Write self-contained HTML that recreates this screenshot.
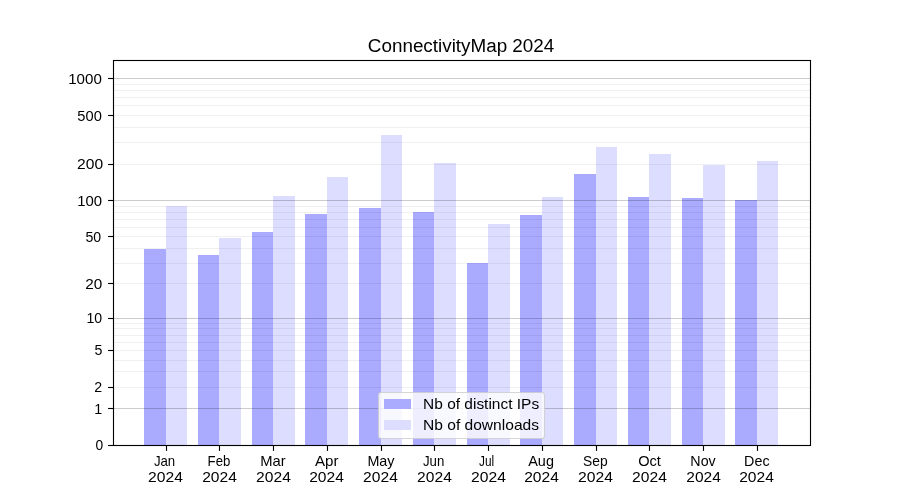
<!DOCTYPE html>
<html><head><meta charset="utf-8"><title>ConnectivityMap 2024</title>
<style>
html,body{margin:0;padding:0;background:#fff;width:900px;height:500px;overflow:hidden}
svg{display:block}
text{font-family:"Liberation Sans", sans-serif;fill:#000}
</style></head><body>
<svg width="900" height="500" viewBox="0 0 900 500">
<rect x="0" y="0" width="900" height="500" fill="#ffffff"/>
<g shape-rendering="crispEdges">
<rect x="144" y="249" width="22" height="196" fill="#aaaaff"/>
<rect x="198" y="255" width="21" height="190" fill="#aaaaff"/>
<rect x="252" y="232" width="21" height="213" fill="#aaaaff"/>
<rect x="305" y="214" width="22" height="231" fill="#aaaaff"/>
<rect x="359" y="208" width="22" height="237" fill="#aaaaff"/>
<rect x="413" y="212" width="21" height="233" fill="#aaaaff"/>
<rect x="467" y="263" width="21" height="182" fill="#aaaaff"/>
<rect x="520" y="215" width="22" height="230" fill="#aaaaff"/>
<rect x="574" y="174" width="22" height="271" fill="#aaaaff"/>
<rect x="628" y="197" width="21" height="248" fill="#aaaaff"/>
<rect x="682" y="198" width="21" height="247" fill="#aaaaff"/>
<rect x="735" y="200" width="22" height="245" fill="#aaaaff"/>
<rect x="166" y="206" width="21" height="239" fill="#ddddff"/>
<rect x="219" y="238" width="22" height="207" fill="#ddddff"/>
<rect x="273" y="196" width="22" height="249" fill="#ddddff"/>
<rect x="327" y="177" width="21" height="268" fill="#ddddff"/>
<rect x="381" y="135" width="21" height="310" fill="#ddddff"/>
<rect x="434" y="163" width="22" height="282" fill="#ddddff"/>
<rect x="488" y="224" width="22" height="221" fill="#ddddff"/>
<rect x="542" y="197" width="21" height="248" fill="#ddddff"/>
<rect x="596" y="147" width="21" height="298" fill="#ddddff"/>
<rect x="649" y="154" width="22" height="291" fill="#ddddff"/>
<rect x="703" y="165" width="22" height="280" fill="#ddddff"/>
<rect x="757" y="161" width="21" height="284" fill="#ddddff"/>
</g>
<g shape-rendering="crispEdges" fill="#000">
<rect x="113" y="387" width="698" height="1" fill-opacity="0.06"/>
<rect x="113" y="371" width="698" height="1" fill-opacity="0.06"/>
<rect x="113" y="360" width="698" height="1" fill-opacity="0.06"/>
<rect x="113" y="350" width="698" height="1" fill-opacity="0.06"/>
<rect x="113" y="342" width="698" height="1" fill-opacity="0.06"/>
<rect x="113" y="335" width="698" height="1" fill-opacity="0.06"/>
<rect x="113" y="328" width="698" height="1" fill-opacity="0.06"/>
<rect x="113" y="323" width="698" height="1" fill-opacity="0.06"/>
<rect x="113" y="283" width="698" height="1" fill-opacity="0.06"/>
<rect x="113" y="263" width="698" height="1" fill-opacity="0.06"/>
<rect x="113" y="248" width="698" height="1" fill-opacity="0.06"/>
<rect x="113" y="236" width="698" height="1" fill-opacity="0.06"/>
<rect x="113" y="227" width="698" height="1" fill-opacity="0.06"/>
<rect x="113" y="219" width="698" height="1" fill-opacity="0.06"/>
<rect x="113" y="212" width="698" height="1" fill-opacity="0.06"/>
<rect x="113" y="206" width="698" height="1" fill-opacity="0.06"/>
<rect x="113" y="164" width="698" height="1" fill-opacity="0.06"/>
<rect x="113" y="142" width="698" height="1" fill-opacity="0.06"/>
<rect x="113" y="127" width="698" height="1" fill-opacity="0.06"/>
<rect x="113" y="115" width="698" height="1" fill-opacity="0.06"/>
<rect x="113" y="105" width="698" height="1" fill-opacity="0.06"/>
<rect x="113" y="97" width="698" height="1" fill-opacity="0.06"/>
<rect x="113" y="90" width="698" height="1" fill-opacity="0.06"/>
<rect x="113" y="84" width="698" height="1" fill-opacity="0.06"/>
<rect x="113" y="408" width="698" height="1" fill-opacity="0.2"/>
<rect x="113" y="318" width="698" height="1" fill-opacity="0.2"/>
<rect x="113" y="200" width="698" height="1" fill-opacity="0.2"/>
<rect x="113" y="78" width="698" height="1" fill-opacity="0.2"/>
</g>
<rect x="113.5" y="60.5" width="697" height="385" fill="none" stroke="#000" stroke-width="1.11"/>
<line x1="108.1" y1="445.5" x2="113.5" y2="445.5" stroke="#000" stroke-width="1.11"/>
<line x1="108.1" y1="408.5" x2="113.5" y2="408.5" stroke="#000" stroke-width="1.11"/>
<line x1="108.1" y1="387.5" x2="113.5" y2="387.5" stroke="#000" stroke-width="1.11"/>
<line x1="108.1" y1="350.5" x2="113.5" y2="350.5" stroke="#000" stroke-width="1.11"/>
<line x1="108.1" y1="318.5" x2="113.5" y2="318.5" stroke="#000" stroke-width="1.11"/>
<line x1="108.1" y1="283.5" x2="113.5" y2="283.5" stroke="#000" stroke-width="1.11"/>
<line x1="108.1" y1="236.5" x2="113.5" y2="236.5" stroke="#000" stroke-width="1.11"/>
<line x1="108.1" y1="200.5" x2="113.5" y2="200.5" stroke="#000" stroke-width="1.11"/>
<line x1="108.1" y1="164.5" x2="113.5" y2="164.5" stroke="#000" stroke-width="1.11"/>
<line x1="108.1" y1="115.5" x2="113.5" y2="115.5" stroke="#000" stroke-width="1.11"/>
<line x1="108.1" y1="78.5" x2="113.5" y2="78.5" stroke="#000" stroke-width="1.11"/>
<line x1="166.5" y1="445.5" x2="166.5" y2="450.9" stroke="#000" stroke-width="1.11"/>
<line x1="219.5" y1="445.5" x2="219.5" y2="450.9" stroke="#000" stroke-width="1.11"/>
<line x1="273.5" y1="445.5" x2="273.5" y2="450.9" stroke="#000" stroke-width="1.11"/>
<line x1="327.5" y1="445.5" x2="327.5" y2="450.9" stroke="#000" stroke-width="1.11"/>
<line x1="381.5" y1="445.5" x2="381.5" y2="450.9" stroke="#000" stroke-width="1.11"/>
<line x1="434.5" y1="445.5" x2="434.5" y2="450.9" stroke="#000" stroke-width="1.11"/>
<line x1="488.5" y1="445.5" x2="488.5" y2="450.9" stroke="#000" stroke-width="1.11"/>
<line x1="542.5" y1="445.5" x2="542.5" y2="450.9" stroke="#000" stroke-width="1.11"/>
<line x1="596.5" y1="445.5" x2="596.5" y2="450.9" stroke="#000" stroke-width="1.11"/>
<line x1="649.5" y1="445.5" x2="649.5" y2="450.9" stroke="#000" stroke-width="1.11"/>
<line x1="703.5" y1="445.5" x2="703.5" y2="450.9" stroke="#000" stroke-width="1.11"/>
<line x1="757.5" y1="445.5" x2="757.5" y2="450.9" stroke="#000" stroke-width="1.11"/>
<rect x="378.5" y="392.5" width="166" height="46" rx="2.8" ry="2.8" fill="#ffffff" fill-opacity="0.8" stroke="#cccccc" stroke-opacity="0.8" stroke-width="1.11"/>
<rect x="384" y="399" width="27" height="10" fill="#aaaaff" shape-rendering="crispEdges"/>
<rect x="384" y="420" width="27" height="10" fill="#ddddff" shape-rendering="crispEdges"/>
<g style="will-change:transform">
<text x="461.074" y="52" font-size="17.6" text-anchor="middle" textLength="186.452" lengthAdjust="spacingAndGlyphs">ConnectivityMap 2024</text>
<text x="101.809" y="84" font-size="14.2" text-anchor="end" textLength="33.602" lengthAdjust="spacingAndGlyphs">1000</text>
<text x="101.84" y="121" font-size="14.2" text-anchor="end" textLength="24.455" lengthAdjust="spacingAndGlyphs">500</text>
<text x="103.203" y="169" font-size="14.2" text-anchor="end" textLength="26.064" lengthAdjust="spacingAndGlyphs">200</text>
<text x="102.141" y="206" font-size="14.2" text-anchor="end" textLength="24.863" lengthAdjust="spacingAndGlyphs">100</text>
<text x="101.224" y="242" font-size="14.2" text-anchor="end" textLength="15.72" lengthAdjust="spacingAndGlyphs">50</text>
<text x="102.274" y="289" font-size="14.2" text-anchor="end" textLength="17.034" lengthAdjust="spacingAndGlyphs">20</text>
<text x="102.204" y="323" font-size="14.2" text-anchor="end" textLength="15.687" lengthAdjust="spacingAndGlyphs">10</text>
<text x="102.327" y="355" font-size="14.2" text-anchor="end" textLength="7.903" lengthAdjust="spacingAndGlyphs">5</text>
<text x="102.144" y="392" font-size="14.2" text-anchor="end" textLength="7.89" lengthAdjust="spacingAndGlyphs">2</text>
<text x="102.323" y="414" font-size="14.2" text-anchor="end" textLength="7.942" lengthAdjust="spacingAndGlyphs">1</text>
<text x="103.274" y="450" font-size="14.2" text-anchor="end" textLength="7.668" lengthAdjust="spacingAndGlyphs">0</text>
<text x="164.554" y="466" font-size="14.4" text-anchor="middle" textLength="21.355" lengthAdjust="spacingAndGlyphs">Jan</text>
<text x="165.487" y="482" font-size="14.3" text-anchor="middle" textLength="34.832" lengthAdjust="spacingAndGlyphs">2024</text>
<text x="218.982" y="466" font-size="14.4" text-anchor="middle" textLength="22.725" lengthAdjust="spacingAndGlyphs">Feb</text>
<text x="219.537" y="482" font-size="14.3" text-anchor="middle" textLength="34.684" lengthAdjust="spacingAndGlyphs">2024</text>
<text x="273.032" y="466" font-size="14.4" text-anchor="middle" textLength="25.439" lengthAdjust="spacingAndGlyphs">Mar</text>
<text x="273.484" y="482" font-size="14.3" text-anchor="middle" textLength="34.727" lengthAdjust="spacingAndGlyphs">2024</text>
<text x="326.792" y="466" font-size="14.4" text-anchor="middle" textLength="23.53" lengthAdjust="spacingAndGlyphs">Apr</text>
<text x="326.503" y="482" font-size="14.3" text-anchor="middle" textLength="34.651" lengthAdjust="spacingAndGlyphs">2024</text>
<text x="380.968" y="466" font-size="14.4" text-anchor="middle" textLength="27.077" lengthAdjust="spacingAndGlyphs">May</text>
<text x="380.483" y="482" font-size="14.3" text-anchor="middle" textLength="34.7" lengthAdjust="spacingAndGlyphs">2024</text>
<text x="433.612" y="466" font-size="14.4" text-anchor="middle" textLength="21.364" lengthAdjust="spacingAndGlyphs">Jun</text>
<text x="434.482" y="482" font-size="14.3" text-anchor="middle" textLength="34.701" lengthAdjust="spacingAndGlyphs">2024</text>
<text x="486.561" y="466" font-size="14.4" text-anchor="middle" textLength="15.131" lengthAdjust="spacingAndGlyphs">Jul</text>
<text x="488.52" y="482" font-size="14.3" text-anchor="middle" textLength="34.835" lengthAdjust="spacingAndGlyphs">2024</text>
<text x="541.074" y="466" font-size="14.4" text-anchor="middle" textLength="25.696" lengthAdjust="spacingAndGlyphs">Aug</text>
<text x="541.504" y="482" font-size="14.3" text-anchor="middle" textLength="34.654" lengthAdjust="spacingAndGlyphs">2024</text>
<text x="595.29" y="466" font-size="14.4" text-anchor="middle" textLength="24.595" lengthAdjust="spacingAndGlyphs">Sep</text>
<text x="595.524" y="482" font-size="14.3" text-anchor="middle" textLength="34.914" lengthAdjust="spacingAndGlyphs">2024</text>
<text x="649.543" y="466" font-size="14.4" text-anchor="middle" textLength="22.686" lengthAdjust="spacingAndGlyphs">Oct</text>
<text x="649.491" y="482" font-size="14.3" text-anchor="middle" textLength="34.701" lengthAdjust="spacingAndGlyphs">2024</text>
<text x="703.022" y="466" font-size="14.4" text-anchor="middle" textLength="25.381" lengthAdjust="spacingAndGlyphs">Nov</text>
<text x="703.542" y="482" font-size="14.3" text-anchor="middle" textLength="34.587" lengthAdjust="spacingAndGlyphs">2024</text>
<text x="756.826" y="466" font-size="14.4" text-anchor="middle" textLength="25.449" lengthAdjust="spacingAndGlyphs">Dec</text>
<text x="756.527" y="482" font-size="14.3" text-anchor="middle" textLength="34.669" lengthAdjust="spacingAndGlyphs">2024</text>
<text x="423.113" y="409" font-size="15.0" text-anchor="start" textLength="116.008" lengthAdjust="spacingAndGlyphs">Nb of distinct IPs</text>
<text x="422.997" y="430" font-size="15.0" text-anchor="start" textLength="116.026" lengthAdjust="spacingAndGlyphs">Nb of downloads</text>
</g>
</svg>
</body></html>
